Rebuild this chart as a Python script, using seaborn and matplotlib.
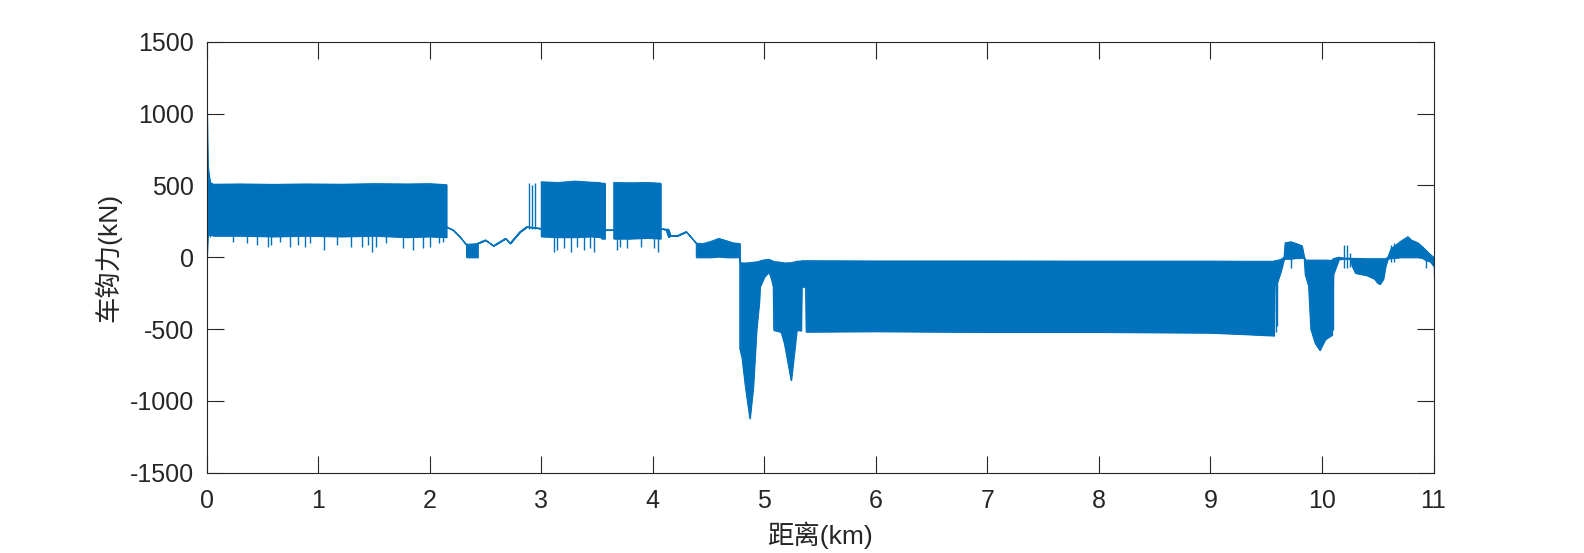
import numpy as np
import pandas as pd
import matplotlib
matplotlib.use("Agg")
import matplotlib.pyplot as plt
import seaborn as sns

# envelope of the hook force trace: distance (km), lower / upper bound (kN)
env_x = [0.000, 0.002, 0.010, 0.030, 0.060, 0.30, 0.60, 0.90, 1.20, 1.50, 1.80, 2.00, 2.15,
         2.15, 2.21, 2.27, 2.33,
         2.33, 2.38, 2.43,
         2.43, 2.50, 2.57, 2.63, 2.68, 2.72, 2.81, 2.87, 3.00,
         3.00, 3.15, 3.30, 3.45, 3.53,
         3.53, 3.54,
         3.54, 3.57,
         3.57, 3.65,
         3.65, 3.80, 3.95, 4.07,
         4.07, 4.12, 4.14, 4.16, 4.22, 4.30, 4.39,
         4.39, 4.45, 4.52, 4.59, 4.66, 4.72, 4.78,
         4.78, 4.80, 4.83, 4.87, 4.90, 4.93, 4.955, 4.96, 5.00, 5.04, 5.065, 5.08,
         5.085, 5.15, 5.18, 5.24, 5.27, 5.29, 5.33,
         5.335, 5.37,
         5.375, 6.0, 7.0, 8.0, 9.0, 9.3, 9.57,
         9.575, 9.60, 9.63, 9.66,
         9.67, 9.72, 9.77, 9.82, 9.84,
         9.85, 9.88, 9.90, 9.94, 9.98, 10.03, 10.09, 10.10,
         10.15, 10.20, 10.26,
         10.27, 10.30, 10.40, 10.47, 10.50, 10.52, 10.55, 10.57, 10.59,
         10.62, 10.66, 10.70, 10.77, 10.80, 10.86, 10.90, 10.93, 10.97, 11.0]
env_lo = [0, 0, 150, 160, 150, 150, 145, 150, 145, 150, 140, 145, 140,
          212, 189, 143, 85,
          0, 0, 0,
          97, 120, 80, 108, 131, 97, 178, 212, 200,
          145, 140, 140, 145, 140,
          200, 200,
          130, 130,
          190, 190,
          130, 130, 135, 130,
          200, 190, 140, 150, 150, 178, 97,
          0, 0, 0, 5, 0, 0, 0,
          -634, -700, -900, -1121, -900, -500, -300, -205, -136, -101, -153, -205,
          -507, -520, -600, -855, -650, -507, -510,
          -205, -205,
          -518, -515, -520, -520, -525, -535, -545,
          -200, -170, -100, -10,
          -10, -10, -5, -5, 0,
          -121, -200, -500, -600, -646, -570, -540, -121,
          -15, -10, -10,
          -60, -110, -125, -150, -180, -186, -150, -60, -10,
          -5, -5, 0, 0, 0, 0, -5, -20, -30, -60]
env_hi = [0, 1040, 630, 520, 508, 510, 507, 510, 508, 512, 510, 512, 505,
          212, 189, 143, 85,
          90, 92, 95,
          97, 120, 80, 108, 131, 97, 178, 212, 200,
          525, 520, 530, 522, 520,
          200, 200,
          515, 515,
          190, 190,
          520, 518, 520, 515,
          200, 195, 195, 150, 150, 178, 97,
          97, 95, 110, 131, 115, 100, 95,
          -31, -40, -40, -38, -35, -32, -30, -25, -18, -15, -22, -28,
          -30, -35, -40, -38, -32, -28, -26,
          -24, -24,
          -24, -26, -26, -27, -27, -28, -28,
          -24, -22, -15, 0,
          100, 108, 95, 80, 0,
          -19, -20, -20, -20, -20, -20, -22, -10,
          0, -5, -8,
          -8, -8, -10, -10, -10, -10, -10, -10, 0,
          60, 83, 108, 143, 120, 100, 73, 50, 20, 0]

# isolated spikes: distance, low, high
spike_x = [0.03, 0.24, 0.36, 0.45, 0.55, 0.58, 0.66, 0.75, 0.82, 0.88, 0.93, 1.05, 1.17,
           1.29, 1.39, 1.45, 1.48, 1.52, 1.61, 1.76, 1.85, 1.94, 2.00, 2.08, 2.12,
           2.89, 2.92, 2.94,
           3.11, 3.14, 3.20, 3.27, 3.32, 3.38, 3.44, 3.47, 3.68, 3.71, 3.77, 3.89, 4.01, 4.05,
           9.585, 9.60, 9.67, 9.72, 10.10, 10.20, 10.22, 10.25, 10.62, 10.65, 10.93, 11.0]
spike_lo = [143, 108, 97, 85, 73, 85, 108, 73, 85, 73, 97, 50, 85,
            73, 73, 85, 38, 73, 97, 62, 50, 62, 73, 97, 108,
            200, 200, 200,
            38, 50, 62, 38, 73, 50, 62, 38, 50, 73, 62, 73, 62, 38,
            -520, -480, -10, -77, -507, -77, -77, -70, -30, -30, -77, -121]
spike_hi = [400, 400, 400, 400, 400, 400, 400, 400, 400, 400, 400, 400, 400,
            400, 400, 400, 400, 400, 400, 400, 400, 400, 400, 400, 400,
            514, 500, 514,
            400, 400, 400, 400, 400, 400, 400, 400, 400, 400, 400, 400, 400, 400,
            -24, -24, 83, 80, -20, 83, 83, 30, 83, 100, 50, 0]

x_ticks = list(range(0, 12))
y_ticks = [-1500, -1000, -500, 0, 500, 1000, 1500]

blue = "#0072BD"
dark = "#262626"

sns.set_style("ticks")
plt.rcParams['font.family'] = ['Liberation Sans', 'Noto Sans CJK SC', 'DejaVu Sans']
plt.rcParams['axes.unicode_minus'] = False

fig = plt.figure(figsize=(15.84, 5.53), dpi=100)
ax = fig.add_axes([0.1305, 0.145, 0.7745, 0.7795])

df = pd.DataFrame({"x": env_x, "lo": env_lo, "hi": env_hi})
ax.fill_between(df["x"], df["lo"], df["hi"], color=blue, linewidth=0.8, edgecolor=blue)
sns.lineplot(data=df, x="x", y="hi", ax=ax, color=blue, linewidth=0.8, sort=False, estimator=None)
sns.lineplot(data=df, x="x", y="lo", ax=ax, color=blue, linewidth=0.8, sort=False, estimator=None)
ax.vlines(spike_x, spike_lo, spike_hi, color=blue, linewidth=1.0)

ax.set_xlim(0, 11)
ax.set_ylim(-1500, 1500)
ax.set_xticks(x_ticks)
ax.set_yticks(y_ticks)
ax.tick_params(direction="in", length=12, width=0.8, colors=dark, labelsize=18,
               top=True, right=True, pad=9)
ax.tick_params(axis="x", pad=12)
for s in ax.spines.values():
    s.set_color(dark)
    s.set_linewidth(0.8)

ax.set_xlabel("距离(km)", fontsize=19, color=dark, labelpad=6)
ax.set_ylabel("车钩力(kN)", fontsize=19, color=dark, labelpad=6)

fig.savefig("out.png", dpi=100, facecolor="w")
